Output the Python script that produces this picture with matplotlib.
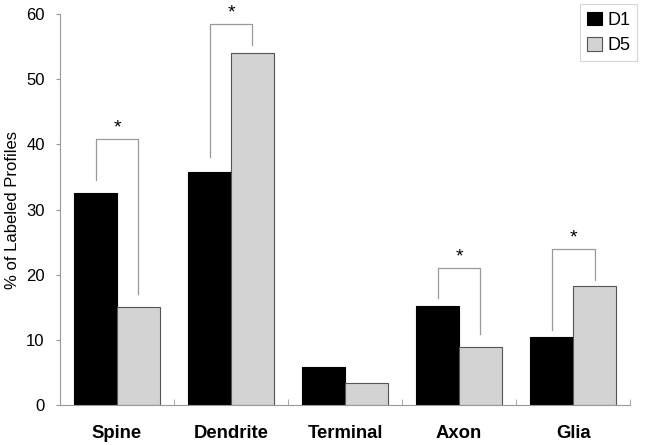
import matplotlib
matplotlib.use('Agg')
import matplotlib.pyplot as plt
import numpy as np

plt.rcParams['font.family'] = ['Liberation Sans', 'DejaVu Sans']

categories = ['Spine', 'Dendrite', 'Terminal', 'Axon', 'Glia']
d1 = [32.6, 35.8, 5.9, 15.3, 10.5]
d5 = [15.1, 54.1, 3.5, 9.0, 18.3]

# significance brackets: category index, left leg bottom, top, right leg bottom, star y
sig_idx = [0, 1, 3, 4]
sig_left = [34.5, 38.1, 16.5, 11.5]
sig_top = [40.8, 58.4, 21.1, 23.9]
sig_right = [17.1, 55.3, 10.9, 19.3]
sig_star = [41.2, 58.8, 21.5, 24.3]

fig = plt.figure(figsize=(6.45, 4.45), dpi=100)
ax = fig.add_axes([0.093, 0.089, 0.884, 0.8795])

x = np.arange(len(categories))
w = 0.375
off = 0.1875
ax.bar(x - off, d1, w, color='black', edgecolor='black', linewidth=0.8, label='D1')
ax.bar(x + off, d5, w, color='#d3d3d3', edgecolor='#555555', linewidth=0.8, label='D5')

for i, yl, yt, yr, ys in zip(sig_idx, sig_left, sig_top, sig_right, sig_star):
    ax.plot([i - off, i - off, i + off, i + off], [yl, yt, yt, yr],
            color='#999999', linewidth=0.9, clip_on=False)
    ax.text(i, ys, '*', ha='center', va='bottom', fontsize=14, clip_on=False)

ax.set_xlim(-0.5, 4.5)
ax.set_ylim(0, 60)
ax.set_yticks(range(0, 61, 10))
ax.tick_params(axis='y', labelsize=12, length=3, color='#999999', pad=8)
ax.set_xticks(x)
ax.set_xticklabels(categories, fontsize=13.3, fontweight='bold')
ax.tick_params(axis='x', length=0, pad=14)
ax.set_xticks(np.arange(-0.5, 5, 1), minor=True)
ax.tick_params(axis='x', which='minor', direction='in', length=4, color='#999999')

ax.set_ylabel('% of Labeled Profiles', fontsize=12)
ax.yaxis.set_label_coords(-0.07, 0.5)
for s in ['top', 'right']:
    ax.spines[s].set_visible(False)
for s in ['left', 'bottom']:
    ax.spines[s].set_color('#999999')
    ax.spines[s].set_linewidth(0.8)

leg = ax.legend(loc='upper right', bbox_to_anchor=(0.988, 0.99), bbox_transform=fig.transFigure,
                borderaxespad=0, fontsize=13, frameon=True, fancybox=False, handlelength=0.8,
                handleheight=0.8, handletextpad=0.3, borderpad=0.4, labelspacing=0.45)
leg.get_frame().set_edgecolor('#cccccc')
leg.get_frame().set_linewidth(0.8)

fig.savefig('out.png', dpi=100)
